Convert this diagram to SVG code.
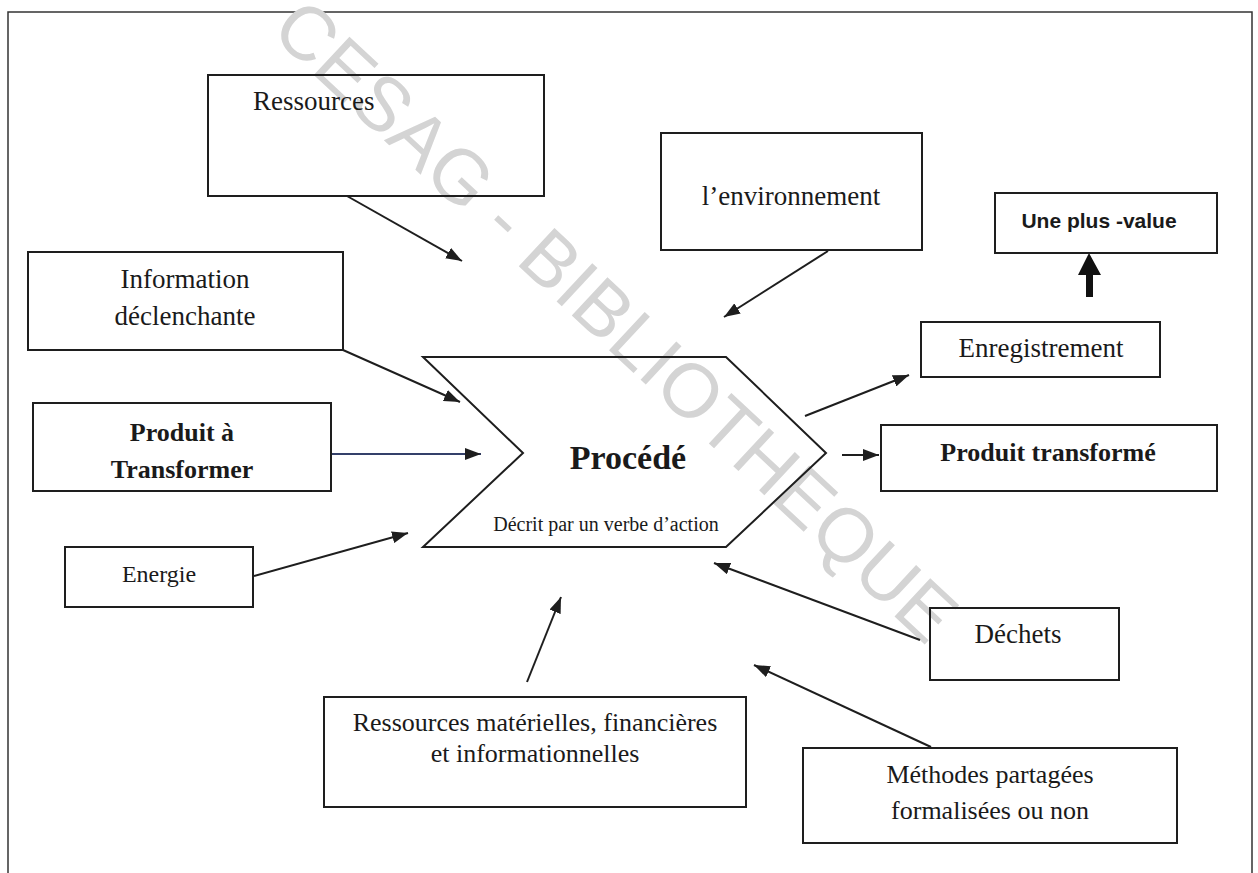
<svg xmlns="http://www.w3.org/2000/svg" width="1258" height="873" viewBox="0 0 1258 873">
  <style>
    .box { fill: none; stroke: #1e1e1e; stroke-width: 2; }
    .t { font-family: "Liberation Serif", "Times New Roman", serif; font-size: 26px; fill: #1a1a1a; text-anchor: middle; }
    .b { font-weight: bold; }
    .conn { stroke: #1e1e1e; stroke-width: 2; fill: none; marker-end: url(#arr); }
    .wm { font-family: "Liberation Sans", Arial, sans-serif; font-size: 76px; fill: #d4d4d4; text-anchor: middle; }
  </style>
  <defs>
    <marker id="arr" markerUnits="userSpaceOnUse" markerWidth="16" markerHeight="12" refX="16" refY="6" orient="auto">
      <path d="M0,0 L16,6 L0,12 z" fill="#1e1e1e"/>
    </marker>
  </defs>
  <rect x="0" y="0" width="1258" height="873" fill="#ffffff"/>
  <g id="frame" fill="none" stroke="#333" stroke-width="1.5">
    <path d="M8,873 L8,12 L1252,12 L1252,873"/>
  </g>
  <g id="watermark">
    <text class="wm" transform="translate(598,340) rotate(43)" textLength="900" lengthAdjust="spacing">CESAG - BIBLIOTHEQUE</text>
  </g>
  <g id="connectors">
    <line class="conn" x1="347" y1="196" x2="462" y2="261"/>
    <line class="conn" x1="343" y1="350" x2="460" y2="402"/>
    <line class="conn" x1="331" y1="454" x2="481" y2="454" style="stroke:#34406a"/>
    <line class="conn" x1="254" y1="576" x2="408" y2="533"/>
    <line class="conn" x1="828" y1="251" x2="724" y2="317"/>
    <line class="conn" x1="527" y1="682" x2="561" y2="597"/>
    <line class="conn" x1="920" y1="640" x2="714" y2="563"/>
    <line class="conn" x1="931" y1="747" x2="754" y2="665"/>
    <line class="conn" x1="805" y1="416" x2="909" y2="375"/>
    <line class="conn" x1="842" y1="455" x2="879" y2="455"/>
    <path d="M1089,253 L1101,275 L1093,275 L1093,297 L1086,297 L1086,275 L1078,275 Z" fill="#111"/>
  </g>
  <g id="ressources">
    <rect class="box" x="208" y="75" width="336" height="121"/>
    <text class="t" x="253" y="110" style="text-anchor:start;font-size:27px">Ressources</text>
  </g>
  <g id="information">
    <rect class="box" x="28" y="252" width="315" height="98"/>
    <text class="t" x="185" y="288" style="font-size:27px">Information</text>
    <text class="t" x="185" y="325" style="font-size:27px">déclenchante</text>
  </g>
  <g id="produit">
    <rect class="box" x="33" y="403" width="298" height="88"/>
    <text class="t b" x="182" y="441">Produit  à</text>
    <text class="t b" x="182" y="478">Transformer</text>
  </g>
  <g id="energie">
    <rect class="box" x="65" y="547" width="188" height="60"/>
    <text class="t" x="159" y="582" style="font-size:24px">Energie</text>
  </g>
  <g id="procede">
    <polygon class="box" points="423,357 726,357 826,453 726,547 423,547 523,453"/>
    <text class="t b" x="628" y="469" style="font-size:34px">Procédé</text>
    <text class="t" x="606" y="531" style="font-size:20px">Décrit par un verbe d’action</text>
  </g>
  <g id="environnement">
    <rect class="box" x="661" y="133" width="261" height="117"/>
    <text class="t" x="791" y="205" style="font-size:27px">l’environnement</text>
  </g>
  <g id="plusvalue">
    <rect class="box" x="995" y="193" width="222" height="60"/>
    <text x="1099" y="228" style="font-family:'Liberation Sans',Arial,sans-serif;font-size:21px;font-weight:bold;fill:#1a1a1a;text-anchor:middle">Une plus -value</text>
  </g>
  <g id="enregistrement">
    <rect class="box" x="921" y="322" width="239" height="55"/>
    <text class="t" x="1041" y="357" style="font-size:27px">Enregistrement</text>
  </g>
  <g id="produit-transforme">
    <rect class="box" x="881" y="425" width="336" height="66"/>
    <text class="t b" x="1048" y="461">Produit transformé</text>
  </g>
  <g id="dechets">
    <rect class="box" x="930" y="608" width="189" height="72"/>
    <text class="t" x="1018" y="643" style="font-size:27px">Déchets</text>
  </g>
  <g id="ressources-materielles">
    <rect class="box" x="324" y="697" width="422" height="110"/>
    <text class="t" x="535" y="731">Ressources matérielles, financières</text>
    <text class="t" x="535" y="762">et informationnelles</text>
  </g>
  <g id="methodes">
    <rect class="box" x="803" y="748" width="374" height="95"/>
    <text class="t" x="990" y="783">Méthodes partagées</text>
    <text class="t" x="990" y="819">formalisées ou non</text>
  </g>
</svg>
